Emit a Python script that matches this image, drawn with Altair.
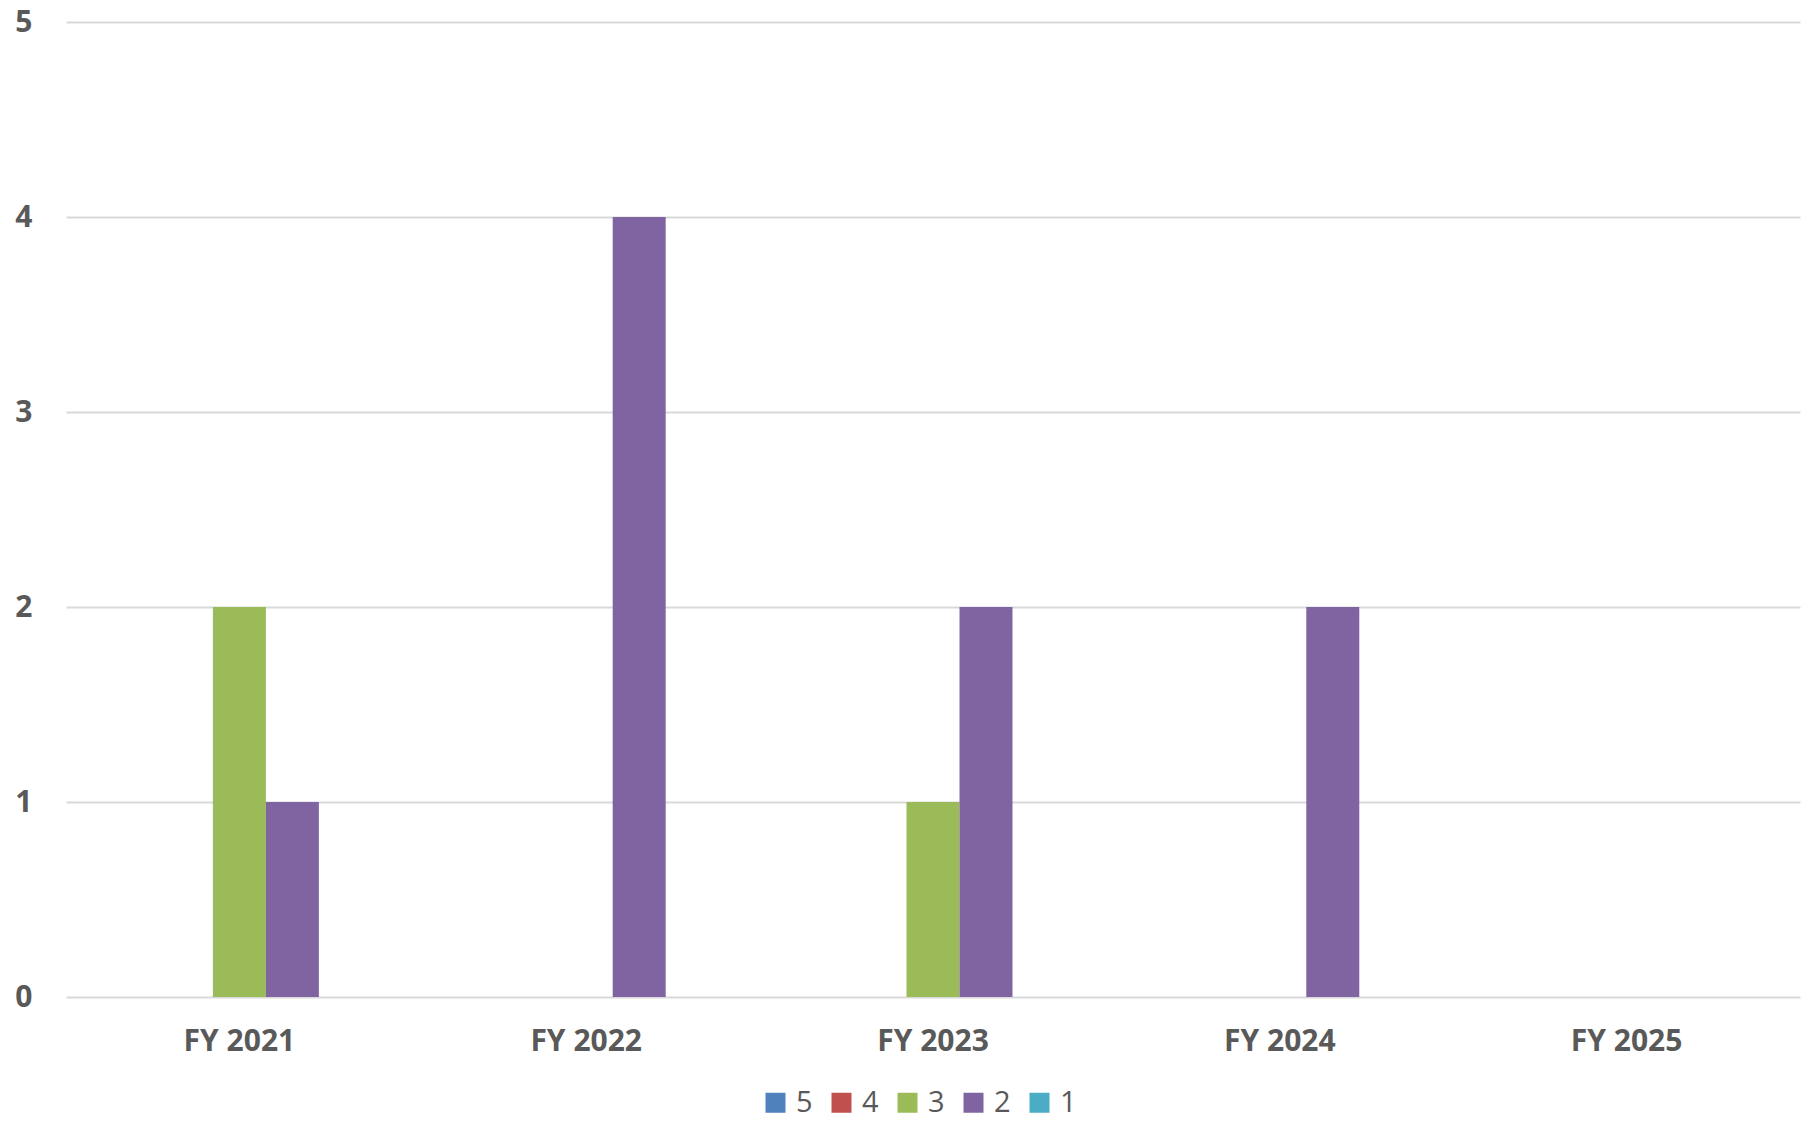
import altair as alt
import pandas as pd

years = ["FY 2021", "FY 2022", "FY 2023", "FY 2024", "FY 2025"]
series = ["5", "4", "3", "2", "1"]
colors = ["#4F81BD", "#C0504D", "#9BBB59", "#8064A2", "#4BACC6"]
values = {
    "5": [0, 0, 0, 0, 0],
    "4": [0, 0, 0, 0, 0],
    "3": [2, 0, 1, 0, 0],
    "2": [1, 4, 2, 2, 0],
    "1": [0, 0, 0, 0, 0],
}

rows = []
for s in series:
    for y, v in zip(years, values[s]):
        rows.append({"year": y, "series": s, "value": v})
df = pd.DataFrame(rows)

FONT = "Open Sans"
GRAY = "#595959"

chart = alt.Chart(df).mark_bar().encode(
    x=alt.X("year:N", sort=years, title=None,
            scale=alt.Scale(paddingInner=0.236, paddingOuter=0.118),
            axis=alt.Axis(labelAngle=0, labelFont=FONT, labelFontSize=30,
                          labelFontWeight="bold", labelColor=GRAY,
                          labelPadding=29, ticks=False, domain=False, grid=False)),
    xOffset=alt.XOffset("series:N", sort=series, scale=alt.Scale(domain=series)),
    y=alt.Y("value:Q", title=None,
            scale=alt.Scale(domain=[0, 5]),
            axis=alt.Axis(values=[0, 1, 2, 3, 4, 5], format="d", labelFont=FONT,
                          labelFontSize=30, labelFontWeight="bold", labelColor=GRAY,
                          labelPadding=34, ticks=False, domain=False,
                          gridColor="#d9d9d9", gridWidth=2)),
    color=alt.Color("series:N", sort=series,
                    scale=alt.Scale(domain=series, range=colors),
                    legend=alt.Legend(title=None, orient="none", direction="horizontal",
                                      legendX=695, legendY=1066, padding=0,
                                      symbolType="square", symbolSize=400,
                                      symbolStrokeWidth=0,
                                      labelFont=FONT, labelFontSize=29, labelColor=GRAY,
                                      labelOffset=6, columnPadding=14)),
).properties(
    width=1734,
    height=975,
    autosize=alt.AutoSizeParams(type="none"),
    padding={"left": 58, "top": 14, "right": 4, "bottom": 121},
    background="white",
).configure_view(stroke=None)

chart.save("out.html", embed_options={"renderer": "svg", "actions": False})
